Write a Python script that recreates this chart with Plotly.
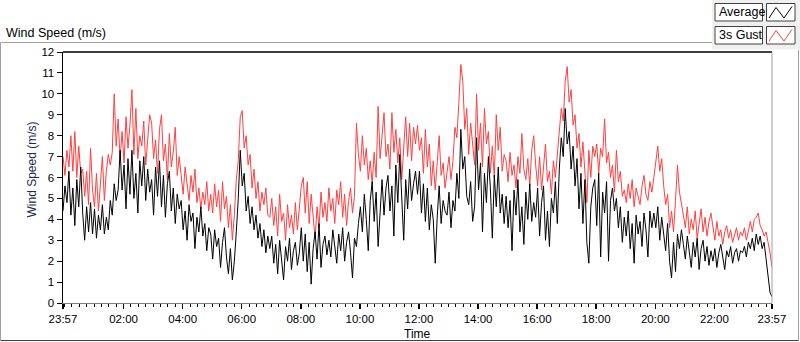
import pandas as pd
import plotly.graph_objects as go

# ---------------- data (one sample every 4 minutes, 23:57 -> 23:57) ----------------
start_time = "2024-01-01 23:57"
sample_minutes = 4

avg_speed = [
    4.4, 5.6, 4.8, 6.3, 4.2, 5.5, 3.7, 5.9, 4.6, 6.5, 4.3, 3.0, 4.6, 3.4, 4.8,
    3.3, 4.5, 3.1, 4.2, 3.5, 4.7, 3.3, 4.1, 3.5, 4.9, 4.2, 5.7, 4.9, 5.4, 7.3,
    5.4, 6.6, 4.5, 6.9, 5.2, 7.3, 5.0, 6.2, 4.3, 6.8, 5.6, 7.0, 4.9, 6.4, 5.3,
    5.9, 4.2, 6.5, 5.1, 6.8, 4.6, 6.1, 4.1, 5.7, 6.3, 4.4, 5.5, 3.8, 5.2, 4.5,
    4.9, 3.5, 4.4, 3.0, 4.7, 3.9, 4.3, 2.6, 4.1, 3.4, 4.6, 3.2, 3.8, 2.5, 3.6,
    3.3, 2.1, 3.5, 2.7, 3.1, 1.7, 2.9, 3.6, 2.2, 1.4, 2.6, 1.1, 2.0, 3.4, 5.0,
    7.3, 5.6, 6.2, 4.4, 5.1, 3.8, 4.6, 3.5, 4.2, 3.1, 3.8, 2.7, 3.5, 2.4, 3.2,
    2.6, 3.2, 1.9, 2.8, 1.4, 3.0, 2.2, 1.1, 2.7, 2.0, 3.1, 1.6, 2.5, 2.9, 1.8,
    2.4, 3.6, 2.0, 3.3, 1.5, 2.9, 0.9, 2.6, 3.4, 2.1, 3.8, 1.7, 2.8, 3.2, 2.3,
    3.0, 2.2, 3.5, 2.6, 1.9, 3.3, 2.5, 3.6, 2.0, 2.9, 3.4, 2.4, 1.2, 3.1, 2.7,
    3.8, 4.6, 3.4, 5.2, 4.0, 2.5, 4.9, 5.8, 3.9, 5.3, 2.7, 4.6, 5.9, 4.2, 5.5,
    6.1, 4.4, 5.6, 3.2, 6.6, 4.8, 7.1, 5.0, 3.0, 5.9, 4.5, 6.4, 4.9, 5.7, 6.3,
    5.2, 6.3, 4.3, 5.7, 3.9, 5.5, 3.5, 4.7, 4.0, 1.9, 4.1, 5.6, 3.8, 4.9, 4.4,
    4.2, 5.3, 3.6, 4.9, 4.4, 6.2, 5.0, 8.3, 6.4, 7.0, 5.1, 4.7, 5.8, 3.9, 4.6,
    7.9, 5.4, 6.7, 3.4, 6.2, 4.8, 7.0, 5.5, 3.1, 6.1, 4.6, 6.5, 4.3, 5.2, 3.8,
    5.1, 3.6, 4.9, 2.5, 5.4, 4.2, 5.9, 3.4, 4.6, 2.8, 5.3, 4.0, 5.7, 3.9, 4.8,
    4.1, 5.5, 3.2, 4.8, 5.6, 3.0, 4.4, 2.7, 5.0, 4.3, 5.8, 3.8, 6.4, 7.9, 7.0,
    9.3, 7.6, 8.2, 6.4, 7.5, 5.6, 6.9, 4.5, 6.2, 3.8, 5.9, 2.9, 1.9, 4.6, 5.5,
    5.9, 3.7, 6.2, 2.2, 5.3, 4.3, 5.8, 2.0, 4.9, 5.5, 4.4, 5.0, 3.6, 4.6, 2.9,
    4.1, 3.2, 4.4, 2.6, 3.8, 1.9, 4.2, 3.3, 3.9, 2.7, 4.3, 3.5, 2.2, 4.4, 3.6,
    4.3, 3.6, 4.6, 3.0, 4.1, 3.4, 2.5, 3.8, 2.0, 1.2, 2.9, 1.5, 3.3, 2.6, 3.5,
    2.8, 2.1, 3.2, 2.4, 1.7, 2.9, 2.2, 3.1, 1.6, 2.6, 3.0, 2.0, 2.7, 1.8, 2.5,
    2.0, 2.6, 1.7, 2.4, 2.8, 2.1, 1.6, 2.5, 2.2, 2.7, 1.9, 2.4, 2.6, 2.0, 2.5,
    2.4, 2.7, 2.2, 2.9, 2.6, 3.1, 2.5, 3.3, 2.8, 3.2, 2.6, 2.9, 2.1, 1.4, 0.5,
    0.3,
]

gust_speed = [
    7.0, 6.1, 7.3, 6.5, 8.0, 6.3, 8.2, 6.0, 7.5, 6.2, 6.4, 5.1, 6.3, 4.7, 7.4,
    5.4, 4.6, 6.2, 4.4, 5.6, 7.0, 4.9, 6.3, 7.1, 6.6, 7.2, 10.0, 7.5, 8.8, 6.9,
    8.2, 6.7, 8.9, 7.4, 8.5, 10.2, 7.1, 9.3, 6.9, 8.0, 7.5, 8.7, 6.6, 7.8, 9.0,
    8.6, 6.9, 7.8, 6.2, 8.3, 9.0, 6.8, 7.6, 5.9, 8.1, 6.5, 7.2, 8.4, 6.1, 7.0,
    6.0, 5.2, 6.5, 5.6, 4.9, 6.1, 5.3, 6.4, 4.8, 5.5, 4.5, 5.3, 4.7, 5.8, 4.4,
    5.2, 4.3, 5.7, 4.6, 5.4, 3.9, 5.8, 4.5, 5.1, 3.6, 4.7, 3.0, 4.2, 5.9, 6.8,
    8.9, 9.2, 7.4, 8.0, 6.6, 7.1, 5.5, 6.4, 5.0, 5.8, 4.4, 5.3, 4.7, 5.5, 4.2,
    4.1, 5.0, 3.7, 4.6, 3.2, 5.2, 3.9, 4.3, 3.0, 4.7, 3.6, 4.2, 3.3, 4.8, 3.5,
    4.4, 5.6, 6.0, 4.3, 5.8, 3.8, 5.2, 4.0, 3.1, 4.6, 3.6, 5.3, 4.1, 4.8, 3.9,
    5.5, 4.4, 5.0, 3.8, 5.4, 4.7, 5.8, 4.1, 5.2, 3.7, 4.9, 5.5, 4.3, 5.1, 8.6,
    7.1, 6.3, 8.0, 6.6, 7.4, 5.9, 6.8, 5.7, 7.2, 6.0, 9.4, 6.9, 8.0, 9.1, 7.0,
    7.6, 6.4, 9.1, 7.2, 8.3, 6.7, 7.9, 5.9, 7.5, 8.9, 7.0, 8.6, 6.8, 8.4, 7.6,
    8.5, 7.3, 7.9, 6.2, 8.3, 6.5, 7.6, 5.6, 6.8, 5.4, 7.0, 8.0, 6.1, 6.7, 5.5,
    6.2, 7.0, 5.9, 6.8, 8.4, 7.9, 9.6, 11.4, 10.6, 8.3, 9.3, 7.1, 8.6, 7.4, 6.6,
    10.0, 7.3, 8.6, 6.5, 9.3, 7.6, 8.2, 6.2, 7.5, 6.0, 9.0, 7.3, 8.4, 6.3, 7.1,
    6.8, 5.8, 7.2, 6.1, 6.6, 5.5, 7.0, 6.2, 8.1, 6.4, 5.9, 6.9, 5.6, 7.3, 8.0,
    6.6, 5.6, 7.0, 5.4, 6.5, 7.6, 5.8, 6.3, 5.2, 6.8, 6.0, 7.2, 8.2, 9.3, 8.7,
    10.6, 11.3, 9.6, 10.2, 8.5, 9.0, 7.4, 8.1, 6.5, 7.7, 6.1, 4.8, 7.3, 6.0, 7.5,
    7.0, 7.6, 6.2, 7.4, 7.0, 8.8, 6.7, 7.2, 6.0, 6.6, 5.3, 7.3, 5.8, 6.3, 5.1,
    5.4, 4.8, 5.7, 5.0, 5.9, 4.6, 5.5, 5.1, 4.7, 5.6, 6.1, 5.2, 4.9, 5.8, 5.3,
    6.0, 6.8, 7.5, 6.3, 6.9, 5.6, 4.7, 5.2, 3.6, 4.4, 3.4, 4.9, 6.6, 5.3, 4.8,
    4.2, 3.6, 4.6, 3.3, 4.0, 3.5, 4.4, 3.1, 3.8, 4.5, 3.4, 4.1, 3.2, 3.9, 4.3,
    3.6, 3.0, 3.9, 3.2, 3.5, 2.8, 3.4, 3.7, 3.1, 3.5, 2.9, 3.3, 3.6, 3.0, 3.4,
    3.2, 3.6, 3.0, 3.5, 3.9, 3.4, 4.0, 4.1, 4.3, 3.7, 3.5, 3.2, 3.4, 2.9, 2.4,
    1.7,
]

tick_times = [
    "2024-01-01 23:57", "2024-01-02 02:00", "2024-01-02 04:00", "2024-01-02 06:00",
    "2024-01-02 08:00", "2024-01-02 10:00", "2024-01-02 12:00", "2024-01-02 14:00",
    "2024-01-02 16:00", "2024-01-02 18:00", "2024-01-02 20:00", "2024-01-02 22:00",
    "2024-01-02 23:57",
]
tick_labels = ["23:57", "02:00", "04:00", "06:00", "08:00", "10:00", "12:00",
               "14:00", "16:00", "18:00", "20:00", "22:00", "23:57"]
y_ticks = list(range(0, 13))

series_names = ["Average", "3s Gust"]
series_colors = ["#000000", "#ff4040"]

times = pd.date_range(start_time, periods=len(avg_speed), freq=f"{sample_minutes}min")

# ---------------- layout geometry (pixels) ----------------
W, H = 800, 342
L, R, T, B = 63, 772, 52, 303
FONT = "Liberation Sans"


def px(x):
    return (x - L) / (R - L)


def py(y):
    return (B - y) / (B - T)


fig = go.Figure()
fig.add_trace(go.Scatter(x=times, y=gust_speed, mode="lines", name=series_names[1],
                         line=dict(color=series_colors[1], width=1), showlegend=False))
fig.add_trace(go.Scatter(x=times, y=avg_speed, mode="lines", name=series_names[0],
                         line=dict(color=series_colors[0], width=1), showlegend=False))

shapes = []
# outer frame
shapes.append(dict(type="line", xref="paper", yref="paper", x0=px(0.5), x1=px(712), y0=py(42.5), y1=py(42.5),
                   line=dict(color="#a0a0a0", width=1)))
shapes.append(dict(type="line", xref="paper", yref="paper", x0=px(0.5), x1=px(0.5), y0=py(42.5), y1=py(340.5),
                   line=dict(color="#a0a0a0", width=1)))
shapes.append(dict(type="line", xref="paper", yref="paper", x0=px(0.5), x1=px(798.5), y0=py(340.5), y1=py(340.5),
                   line=dict(color="#404040", width=1)))
shapes.append(dict(type="line", xref="paper", yref="paper", x0=px(798.5), x1=px(798.5), y0=py(50), y1=py(340.5),
                   line=dict(color="#a0a0a0", width=1)))
# legend panel
shapes.append(dict(type="rect", xref="paper", yref="paper", x0=px(712), x1=px(800), y0=py(0), y1=py(49.5),
                   fillcolor="#f0f0f0", line=dict(width=0), layer="below"))
# plot frame: top black, right gray
shapes.append(dict(type="line", xref="paper", yref="paper", x0=0, x1=1, y0=1, y1=1,
                   line=dict(color="#000000", width=1.5)))
shapes.append(dict(type="line", xref="paper", yref="paper", x0=1, x1=1, y0=0, y1=1,
                   line=dict(color="#a0a0a0", width=1)))

annotations = []
annotations.append(dict(text="Wind Speed (m/s)", xref="paper", yref="paper", x=px(4), y=py(32.5),
                        xanchor="left", yanchor="middle", showarrow=False,
                        font=dict(family=FONT, size=12.5, color="#000000")))
annotations.append(dict(text="Wind Speed (m/s)", xref="paper", yref="paper", x=px(31.5), y=py(170),
                        xanchor="center", yanchor="middle", showarrow=False, textangle=-90,
                        font=dict(family=FONT, size=12, color="#1a2a50")))
annotations.append(dict(text="Time", xref="paper", yref="paper", x=0.5, y=py(333.5),
                        xanchor="center", yanchor="middle", showarrow=False,
                        font=dict(family=FONT, size=12, color="#000000")))

# legend boxes
rows = [(3.5, 21), (26.5, 44)]
for i, (y0, y1) in enumerate(rows):
    shapes.append(dict(type="rect", xref="paper", yref="paper", x0=px(715), x1=px(762.5), y0=py(y0), y1=py(y1),
                       fillcolor="#ffffff", line=dict(color="#404040", width=1)))
    shapes.append(dict(type="rect", xref="paper", yref="paper", x0=px(766.5), x1=px(795), y0=py(y0), y1=py(y1),
                       fillcolor="#ffffff", line=dict(color="#404040", width=1)))
    pts = [(769, y1 - 3), (776, y0 + 4), (784, y1 - 3), (792, y0 + 3)]
    path = "M " + " L ".join(f"{px(a)},{py(b)}" for a, b in pts)
    shapes.append(dict(type="path", xref="paper", yref="paper", path=path,
                       line=dict(color=series_colors[i], width=1)))
    annotations.append(dict(text=series_names[i], xref="paper", yref="paper", x=px(716.5), y=py((y0 + y1) / 2),
                            xanchor="left", yanchor="middle", showarrow=False,
                            font=dict(family=FONT, size=12.5, color="#000000")))

fig.update_layout(
    width=W, height=H,
    margin=dict(l=L, r=W - R, t=T, b=H - B, pad=0),
    paper_bgcolor="#ffffff", plot_bgcolor="#ffffff",
    showlegend=False,
    shapes=shapes, annotations=annotations,
    font=dict(family=FONT, size=11.5, color="#000000"),
)
fig.update_xaxes(
    type="date", range=[tick_times[0], tick_times[-1]],
    tickmode="array", tickvals=tick_times, ticktext=tick_labels,
    ticks="outside", ticklen=5, tickwidth=1.5, tickcolor="#000000",
    showline=True, linecolor="#808080", linewidth=1,
    showgrid=False, zeroline=False,
    tickfont=dict(family=FONT, size=11.5, color="#000000"),
    minor=dict(ticks="outside", ticklen=3, tickwidth=1, tickcolor="#000000",
               dtick=15 * 60 * 1000, tick0="2024-01-02 00:00", showgrid=False),
)
fig.update_yaxes(
    range=[0, 12], tickmode="array", tickvals=y_ticks,
    ticks="outside", ticklen=5, tickcolor="#000000",
    showline=True, linecolor="#000000", linewidth=1.5,
    showgrid=False, zeroline=False,
    tickfont=dict(family=FONT, size=11.5, color="#000000"),
)

fig.write_html("out.html", config={"displayModeBar": False, "staticPlot": True},
               post_script="document.body.style.margin='0';")
